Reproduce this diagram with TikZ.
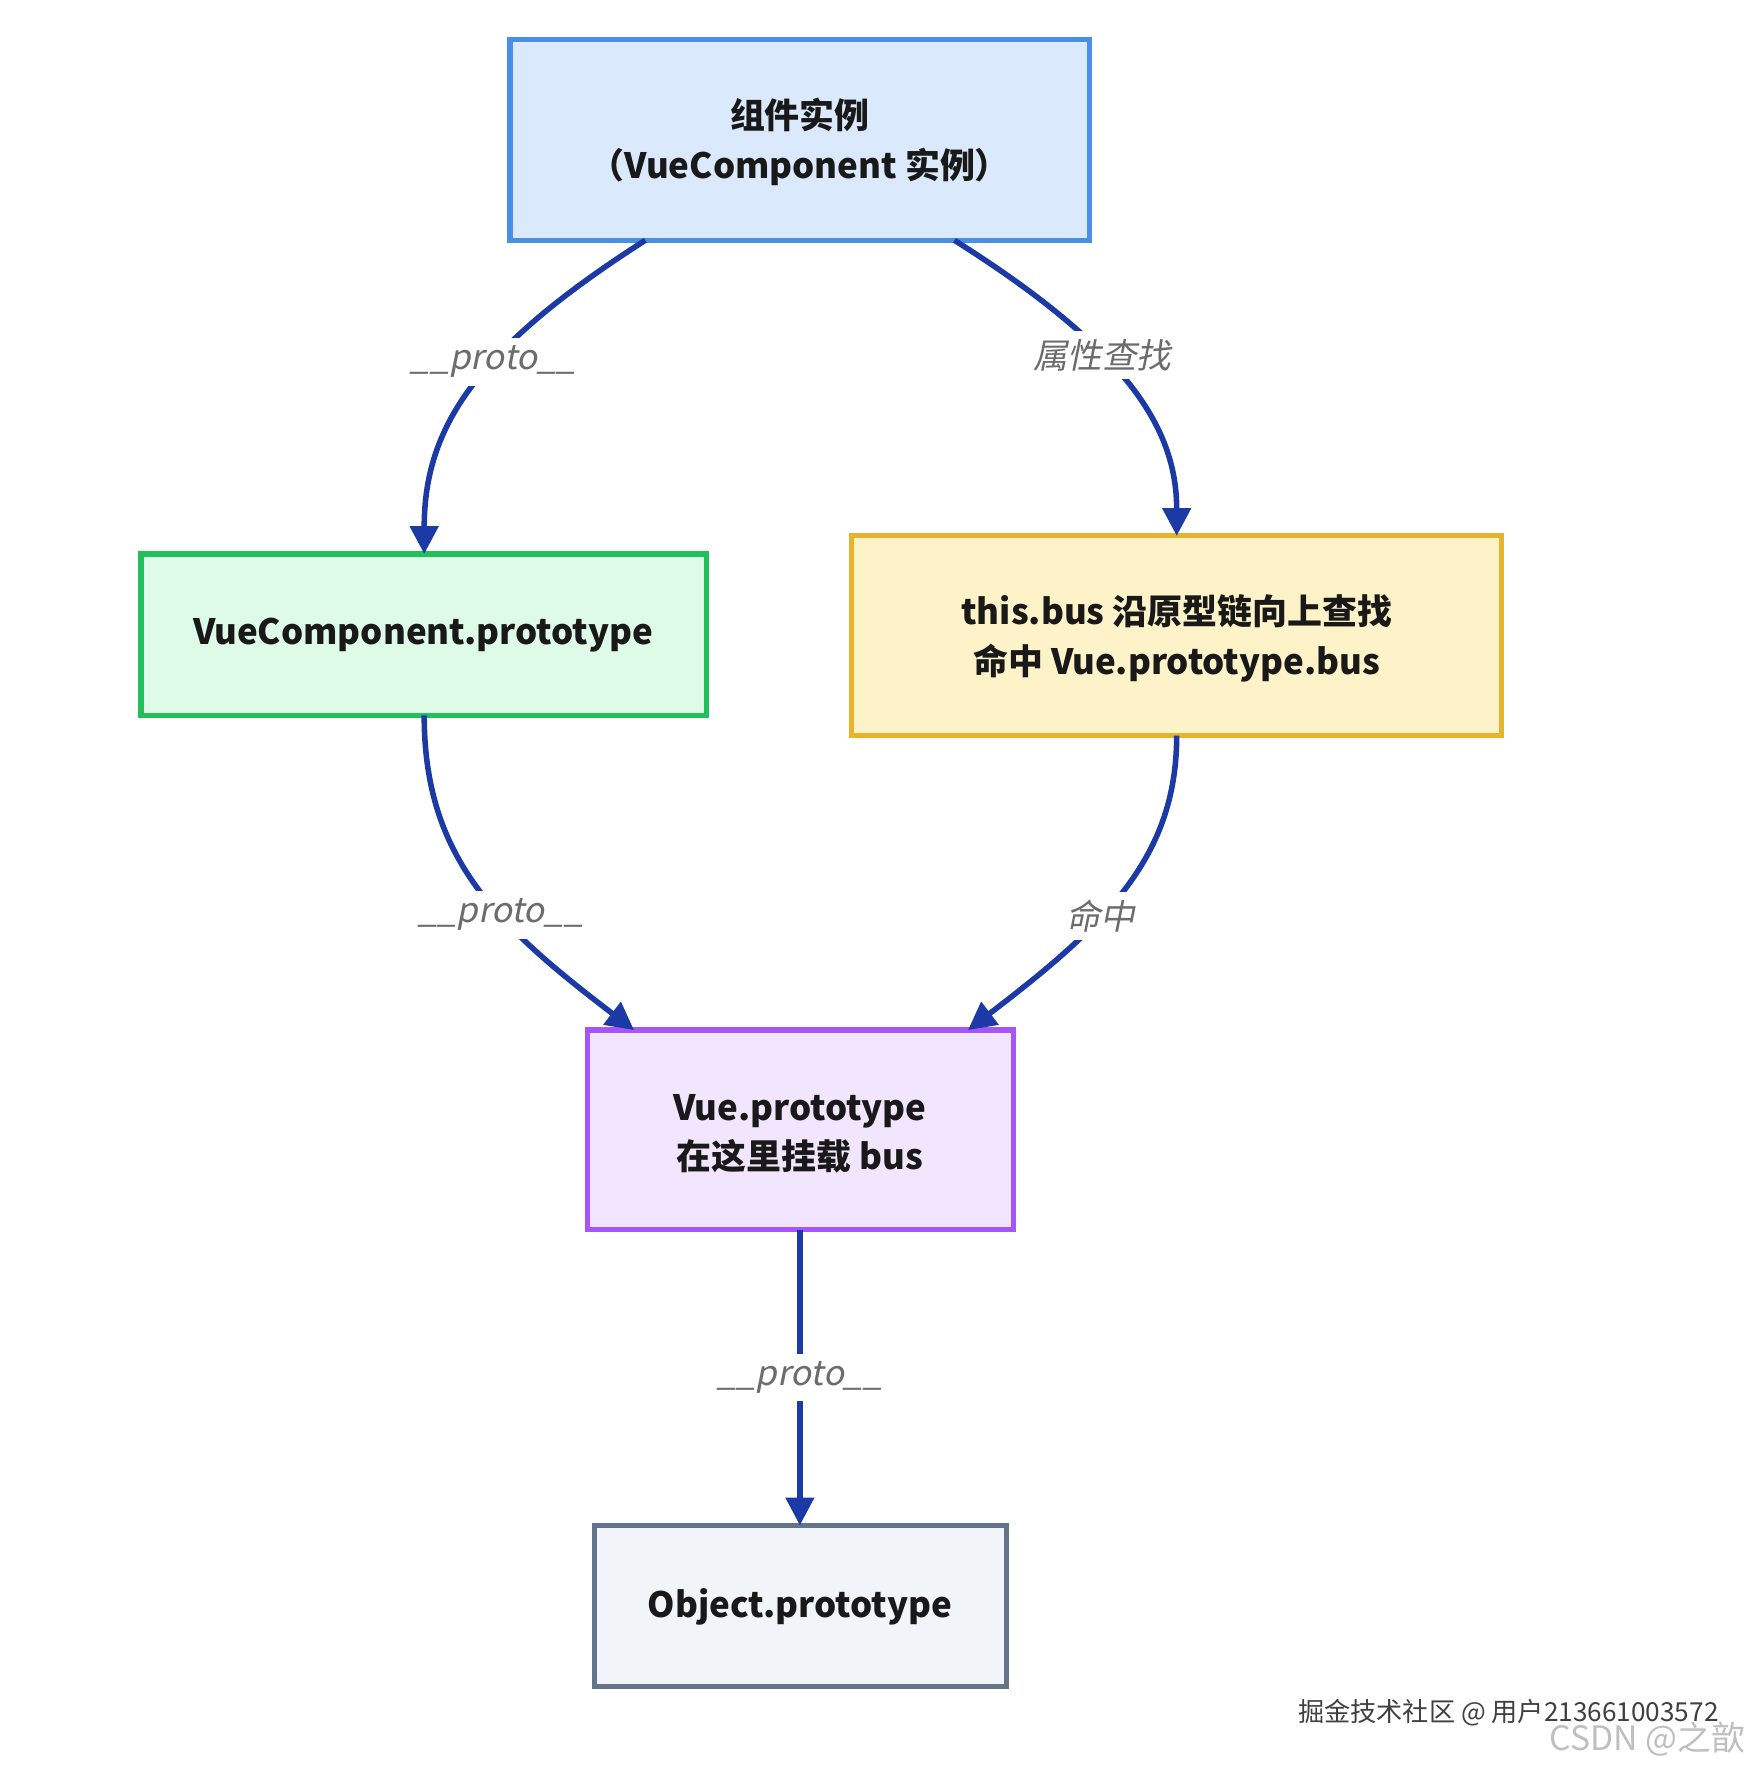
\documentclass[tikz,border=0pt]{standalone}
\usepackage{fontspec}
\setmainfont{Noto Sans CJK SC}
\newfontfamily\labf{Noto Sans CJK SC}[FakeSlant=0.2]
\usetikzlibrary{calc,arrows.meta}
\definecolor{edgec}{HTML}{1B3AA6}
\begin{document}
\begin{tikzpicture}[x=0.01cm,y=-0.01cm,
 box/.style={line width=1.3pt},
 txt/.style={font=\fontsize{8.8pt}{12.5pt}\selectfont\bfseries,align=center,text=black!90},
 ed/.style={draw=edgec,line width=1.4pt,-{Triangle[length=7pt,width=7pt]}},
 lab/.style={fill=white,font=\labf\fontsize{8.7pt}{11pt}\selectfont,text=gray!85!black,inner sep=2pt}]
\useasboundingbox (0,0) rectangle (1560,1576);
\path[box,fill={rgb,255:red,219;green,233;blue,253},draw={rgb,255:red,74;green,143;blue,230}] (452,35) rectangle (966,213);
\node[txt] (topt) at (709,126) {组件实例\\（VueComponent 实例）};
\path[box,fill={rgb,255:red,222;green,251;blue,232},draw={rgb,255:red,34;green,192;blue,90}] (125,491) rectangle (626,634);
\node[txt] (green) at (375,563) {VueComponent.prototype};
\path[box,fill={rgb,255:red,254;green,243;blue,200},draw={rgb,255:red,232;green,179;blue,44}] (755,475) rectangle (1331,652);
\node[txt] (yel) at (1043,566) {this.bus 沿原型链向上查找\\命中 Vue.prototype.bus};
\path[box,fill={rgb,255:red,242;green,230;blue,254},draw={rgb,255:red,168;green,85;blue,247}] (521,913) rectangle (898,1090);
\node[txt] (pur) at (709,1005) {Vue.prototype\\在这里挂载 bus};
\path[box,fill={rgb,255:red,241;green,245;blue,249},draw={rgb,255:red,100;green,116;blue,139}] (527,1352) rectangle (892,1495);
\node[txt] (obj) at (709,1424) {Object.prototype};
\coordinate (a1) at (572,213); \coordinate (a2) at (376,491);
\coordinate (b1) at (846,213); \coordinate (b2) at (1043,475);
\coordinate (c1) at (376,634); \coordinate (c2) at (562,913);
\coordinate (d1) at (1043,652); \coordinate (d2) at (858,913);
\coordinate (e1) at (709,1090); \coordinate (e2) at (709,1352);
\draw[ed] (a1) .. controls (420,310) and (376,380) .. node[lab,pos=0.4]{\_\_proto\_\_} (a2);
\draw[ed] (b1) .. controls (1000,310) and (1043,380) .. node[lab,pos=0.38]{属性查找} (b2);
\draw[ed] (c1) .. controls (376,760) and (440,820) .. node[lab,pos=0.6]{\_\_proto\_\_} (c2);
\draw[ed] (d1) .. controls (1043,760) and (980,820) .. node[lab,pos=0.6]{命中} (d2);
\draw[ed] (e1) -- node[lab,pos=0.5]{\_\_proto\_\_} (e2);
\node[font=\fontsize{6.6pt}{8pt}\selectfont,text=black!75] (wm1) at (1337,1518) {掘金技术社区 @ 用户213661003572};
\node[font=\fontsize{8.5pt}{10pt}\selectfont,text=black!25] (wm2) at (1460,1542) {CSDN @之歆};
\end{tikzpicture}
\end{document}
